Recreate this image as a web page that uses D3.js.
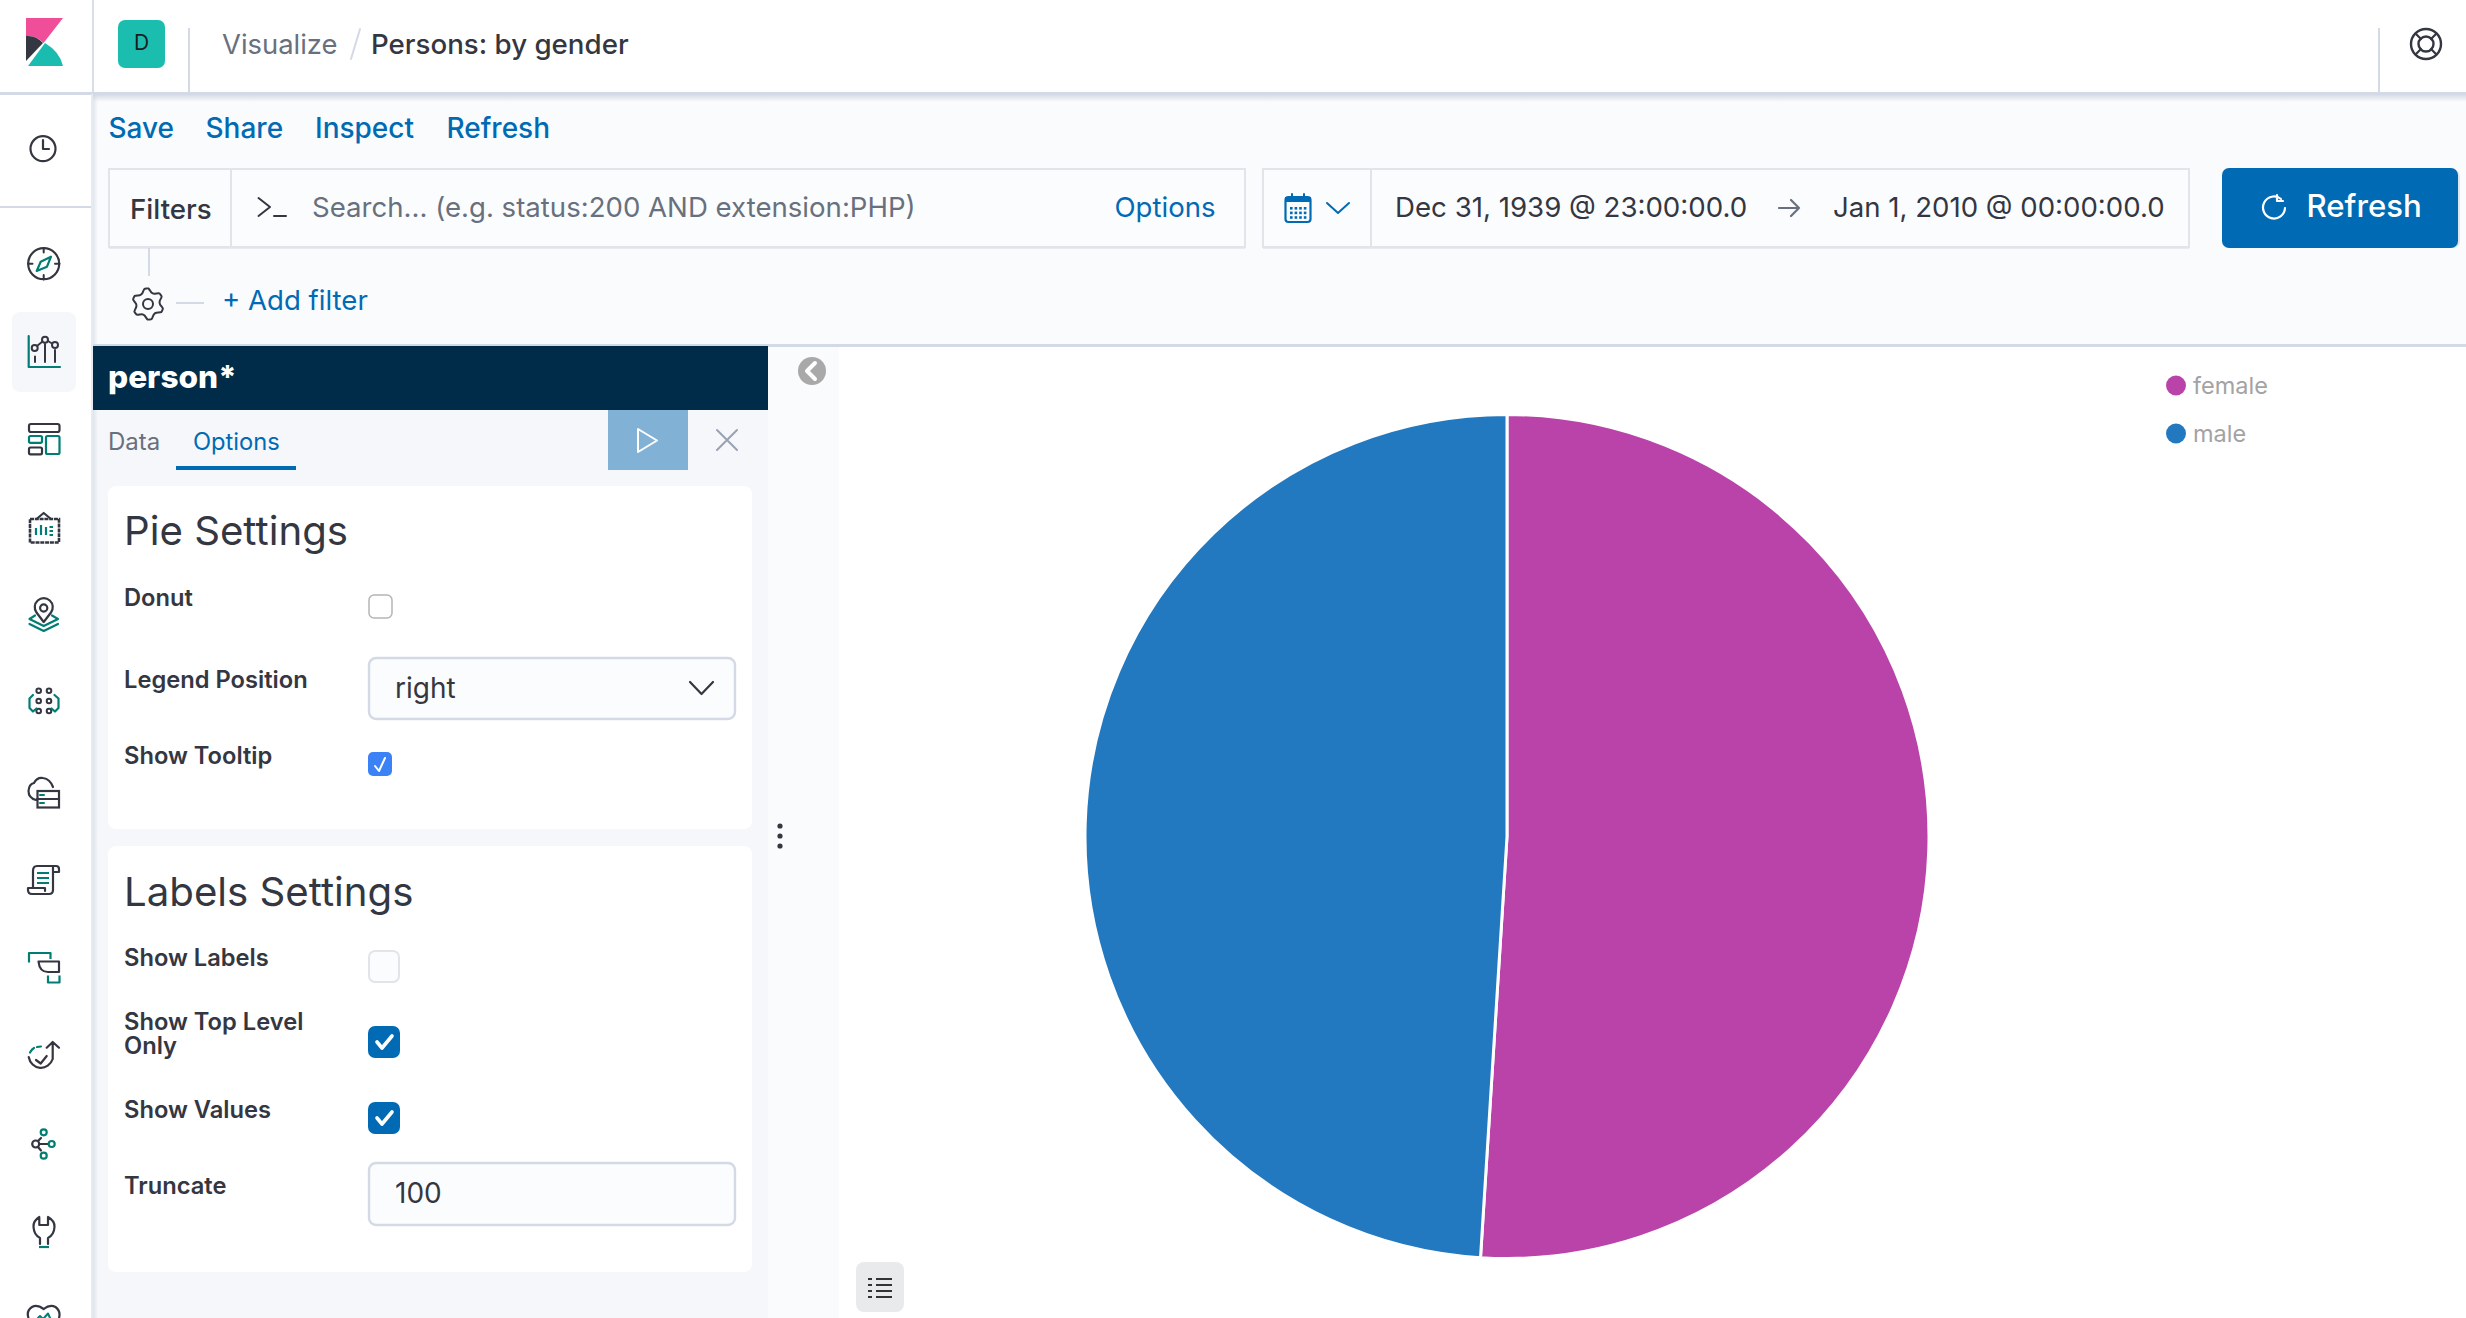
<!DOCTYPE html>
<html><head><meta charset="utf-8">
<script src="https://cdn.jsdelivr.net/npm/d3@7/dist/d3.min.js"></script>
<style>html,body{margin:0;padding:0;background:#fff;overflow:hidden}svg{display:block}text{font-family:Inter,"Noto Sans",sans-serif}</style>
</head><body><svg id="c" width="2466" height="1318" viewBox="0 0 2466 1318"></svg>
<script>
const categories = ["female", "male"];
const seriesValues = [51, 49];
const navLinks = ["Save", "Share", "Inspect", "Refresh"];

const INK="#343741", BLUE="#006BB4", GREY="#69707D", LINE="#D3DAE6", TEAL="#017D73";
const svg=d3.select("#c");
function rect(x,y,w,h,fill,o={}){const r=svg.append("rect").attr("x",x).attr("y",y).attr("width",w).attr("height",h).attr("fill",fill);
  if(o.r)r.attr("rx",o.r);if(o.s)r.attr("stroke",o.s).attr("stroke-width",o.sw||2);return r;}
function t(x,y,s,size,fill,w=400,anchor="start",par=svg){return par.append("text").attr("x",x).attr("y",y).attr("font-size",size).attr("font-weight",w).attr("fill",fill).attr("text-anchor",anchor).text(s);}
function p(d,o={}){return svg.append("path").attr("d",d).attr("fill",o.fill||"none").attr("stroke",o.s||(o.fill?"none":INK)).attr("stroke-width",o.sw||2.2).attr("stroke-linecap",o.cap||"round").attr("stroke-linejoin","round");}
function c(x,y,r,o={}){return svg.append("circle").attr("cx",x).attr("cy",y).attr("r",r).attr("fill",o.fill||"none").attr("stroke",o.s||(o.fill?"none":INK)).attr("stroke-width",o.sw||2.2);}

/* backgrounds */
rect(0,0,2466,1318,"#fff");
rect(93,94,2373,252,"#FAFBFD");
rect(93,346,746,972,"#FAFBFD");
rect(92,410,676,908,"#F5F7FA");
const defs=svg.append("defs");
const g1=defs.append("linearGradient").attr("id","sh").attr("x1",0).attr("x2",0).attr("y1",0).attr("y2",1);
g1.append("stop").attr("offset",0).attr("stop-color","#C9D0DE").attr("stop-opacity",.7);g1.append("stop").attr("offset",1).attr("stop-color","#C9D0DE").attr("stop-opacity",0);
const g2=defs.append("linearGradient").attr("id","sv");
g2.append("stop").attr("offset",0).attr("stop-color","#C9D0DE").attr("stop-opacity",.6);g2.append("stop").attr("offset",1).attr("stop-color","#C9D0DE").attr("stop-opacity",0);
rect(92,94,6,1224,"url(#sv)");
rect(0,92,2466,3,LINE);
rect(93,95,2373,7,"url(#sh)");
rect(0,206,92,2,LINE);
rect(92,0,2,92,LINE).attr("opacity",.9);
rect(188,28,2,64,LINE);
rect(91,94,2,1224,"#E6EAF1");
rect(2378,28,2,64,LINE);
rect(93,344,2373,3,LINE);
rect(93,346,675,64,"#002B49");

/* logo */
p("M26 18H63L43.5 43Q36 35 26 36Z",{fill:"#F04E98"});
p("M26 36Q36 35 43 43L26 61Z",{fill:"#343741"});
p("M28 66L45 43Q60 52 63 66Z",{fill:"#1BBCB0"});

/* top bar */
rect(118,20,47,48,"#1BBEAE",{r:7});
t(141.5,50,"D",21,"#1a1c21",400,"middle");
t(222,54,"Visualize",27.4,GREY);
p("M360 29L351 59",{s:LINE,sw:2});
t(371,54,"Persons: by gender",27.7,INK,500);
const ring=[2426,44];
c(ring[0],ring[1],15,{sw:2.4});c(ring[0],ring[1],7.5,{sw:2.4});
p(`M2416 34L2421 39M2436 34L2431 39M2416 54L2421 49M2436 54L2431 49`);

/* nav links */
const navX=[108.5,205.5,315,446.5];
svg.selectAll("text.nav").data(navLinks).join("text").attr("class","nav").attr("x",(d,i)=>navX[i]).attr("y",138).attr("font-size",28).attr("font-weight",500).attr("fill",BLUE).text(d=>d);

/* query bar */
function box(x,y,w,h){rect(x,y+2,w,h,"#D3DAE6").attr("opacity",.5);rect(x,y,w,h,"#FBFCFD",{s:"#E1E4E9",sw:2});}
box(109,169,1136,78);
rect(230,169,2,78,"#E1E4E9");
t(130,219,"Filters",27.7,INK,500);
p("M258.5 198L270 207L258.5 216M274 216H286",{sw:2});
t(312,217,"Search... (e.g. status:200 AND extension:PHP)",27.6,GREY);
t(1114.5,217,"Options",27.6,BLUE);
box(1263,169,926,78);
rect(1370,169,2,78,"#E1E4E9");
rect(1285.5,197,25,25,"none",{s:BLUE,sw:2.2,r:3});
rect(1285,197,26,5,BLUE);
p("M1292 194V199M1304 194V199",{s:BLUE,sw:2});
svg.selectAll("rect.cal").data(d3.range(12)).join("rect").attr("class","cal").attr("x",d=>1290+(d%4)*4.6).attr("y",d=>207+Math.floor(d/4)*4.6).attr("width",2.6).attr("height",2.6).attr("fill",BLUE);
p("M1327 203L1338 213L1349 203",{s:BLUE,sw:2});
t(1395,217,"Dec 31, 1939 @ 23:00:00.0",27.65,INK);
p("M1779 208H1799M1791 200L1799 208L1791 216",{s:GREY});
t(1833,217,"Jan 1, 2010 @ 00:00:00.0",27.6,INK);
rect(2224,170,236,78,"#C9D0DE",{r:7}).attr("opacity",.5);
rect(2222,168,236,80,BLUE,{r:7});
p("M2281 199A11 11 0 1 0 2285 208M2277 195V201H2283",{s:"#fff",sw:2.2});
t(2306.5,217,"Refresh",31.2,"#fff",500);

/* add filter row */
rect(148,248,2,28,LINE);
const gx=148,gy=304;
const gear=d3.range(24).map(i=>{const a=(i-0.9)/24*2*Math.PI;const r=[15.5,15.5,12,12][i%4];return [r,a];});
p(d3.lineRadial().curve(d3.curveCardinalClosed.tension(.5))(gear.map(([r,a])=>[a,r])),{sw:2}).attr("transform",`translate(${gx},${gy})`);
c(gx,gy,5,{sw:2});
rect(176,302,28,2,LINE);
t(222,310,"+ Add filter",27.6,BLUE);

/* editor header */
t(108,388,"person*",31.6,"#fff",800);
t(108,450,"Data",24,GREY);
t(193,450,"Options",23.7,BLUE);
rect(176,466,120,4,BLUE);
rect(608,410,80,60,"#82B1D6");
p("M638 429V452L657 440.5Z",{s:"#fff",sw:2});
p("M717 430L737 450M737 430L717 450",{s:"#98A2B3",sw:2});

/* cards */
rect(108,486,644,343,"#fff",{r:8});
rect(108,846,644,426,"#fff",{r:8});
t(124,545,"Pie Settings",40.2,INK,400);
t(124,606,"Donut",23.7,INK,600);
rect(369,595,23,23,"#fff",{s:"#B5B5B5",sw:1.5,r:5});
t(124,688,"Legend Position",23.7,INK,600);
rect(369,658,366,61,"#FBFCFD",{s:"#D3DAE6",sw:2.4,r:7});
t(395,698,"right",28,INK);
p("M690 682L701.5 694L713 682",{sw:2.2});
t(124,764,"Show Tooltip",23.7,INK,600);
rect(368,752,24,24,"#3B82F6",{r:5});
p("M375 766L379 771L385 758",{s:"#fff",sw:2});
t(124,906,"Labels Settings",40.2,INK,400);
t(124,966,"Show Labels",23.7,INK,600);
rect(369,951,30,31,"#FBFCFD",{s:"#E1E4E9",sw:2,r:6});
t(124,1030,"Show Top Level",23.7,INK,600);
t(124,1054,"Only",23.7,INK,600);
rect(368,1026,32,32,BLUE,{r:7});
p("M377 1042L382 1048L392 1036",{s:"#fff",sw:3.6});
t(124,1118,"Show Values",23.7,INK,600);
rect(368,1102,32,32,BLUE,{r:7});
p("M377 1118L382 1124L392 1112",{s:"#fff",sw:3.6});
t(124,1194,"Truncate",23.7,INK,600);
rect(369,1163,366,62,"#FBFCFD",{s:"#D3DAE6",sw:2.4,r:7});
t(395,1203,"100",28,INK);

/* resize handle + collapse */
[826,836,846].forEach(y=>c(780,y,2.6,{fill:INK}));
c(812,371,14,{fill:"#A9A9A9"});
p("M815 363L807 371L815 379",{s:"#fff",sw:4});

/* sidebar icons */
rect(12,312,64,80,"#F5F7FA",{r:8});
// clock
c(43,148.7,12.5);p("M43 140V149H49");
// discover
c(43.7,263.7,15.5);p("M43.7 248V252.5M43.7 275V279.5M28 263.7H32.5M55 263.7H59.5",{sw:2});
p("M51 256.7L40.7 261.7L36.7 271L47 266.7Z",{s:TEAL,sw:2.2});
// visualize
p("M28.7 336V367H60",{s:TEAL});
c(34.7,348,3,{sw:2});c(45,339.7,3,{sw:2});c(55,345,3,{sw:2});
p("M37 346L42.5 341.5M48 341L52 343.5",{sw:1.8});
p("M35 356.5V362M45 344V362M55 350V362",{sw:2});
// dashboard
rect(29,424,30.5,8,"none",{s:INK,sw:2.2,r:2});
rect(29,436,13,6.8,"none",{s:TEAL,sw:2.2,r:1.5});
rect(46,436,13.5,18,"none",{s:TEAL,sw:2.2,r:1.5});
rect(29,447.5,13,6.8,"none",{s:INK,sw:2.2,r:1.5});
// canvas
rect(30,519,29,23.5,"none",{s:INK,sw:2.6}).attr("stroke-dasharray","4 .8");
p("M36.5 519L43.7 513L51 519");
p("M36 535V528M41 535V525M46 535V527",{s:TEAL,sw:2.2,cap:"butt"});
p("M49.5 527H53M49.5 531H53M49.5 535H53",{s:TEAL,sw:2,cap:"butt"});
// maps
c(43.7,608,3.6);p("M43.7 622L36.5 612.5A9 9 0 1 1 51 612.5Z");
p("M35 615.5L29.5 619L43.7 626L58 619L52 615.5M29.5 624L43.7 631L58 624",{s:TEAL});
// ml
[[38.7,690.7],[49,690.7],[38.7,701],[49,701],[38.7,711],[49,711]].forEach(a=>c(a[0],a[1],2.3,{sw:2}));
p("M33 695L29.5 698.5V708L33 711.5L36.5 708.5M54.5 695L58.5 698.5V708L55 711.5L51.5 708.5",{s:TEAL});
// infra
p("M36 800Q28.5 798 28.5 791Q29 784 34 783Q37 777 43 778Q50 779 53 787");
rect(37.5,791,21.5,16.5,"#fff",{s:INK,sw:2.2});p("M37 799H59");p("M40 795H44M40 803H44",{s:TEAL,sw:2});
// logs
p("M33 888V871Q33 866 37 866H56Q59 866 59 869V872H53M53 867V890Q53 894 49 894H32Q28 894 28 890V888H45V891");
p("M37 873H49M37 878H49M37 883H49",{s:TEAL,cap:"butt"});
// apm
p("M38.5 961.5H59V972H48Q39.5 972 38.5 961.5Z");
p("M29 962.5V953H50.5V959M48 975.5V982.5H59.5V975.5",{s:TEAL,cap:"butt"});
// uptime
p("M28.7 1057A12.5 13.5 0 0 0 52.7 1059V1042M46.7 1047.7L52.7 1042L59 1047.7M36 1060L40.7 1063.5L46.7 1056");
p("M30 1052.5Q32 1049 34 1048M37 1047L41 1046.5",{s:TEAL});
// graph
c(35.7,1144,3.5);p("M39.5 1144H48M38 1141L41 1138M38 1147L41 1150.5");
c(43.7,1132.3,3,{s:TEAL});c(51.7,1144,3,{s:TEAL});c(43.7,1155.7,3,{s:TEAL});
// dev tools
p("M39.3 1217Q33 1221 33.5 1227Q34 1235 40 1238V1244M48 1244V1238Q54 1235 54.5 1227Q55 1221 48 1217V1225H39.3V1217");
p("M39 1247H49",{s:TEAL,cap:"butt"});
// monitoring
p("M43.7 1309Q37 1304 32 1307Q26 1311 28.5 1318M43.7 1309Q50 1304 55.5 1307Q61 1311 59 1318");
p("M38 1318L40 1316L42 1318M44 1318L48 1313.5L50 1318",{s:TEAL,sw:2});

/* pie chart */
const pieCenter=[1507,836.5], pieRadius=422;
const colour=d3.scaleOrdinal().domain(categories).range(["#BA43A9","#2379BF"]);
const arcs=d3.pie().sort(null).value(d=>d.v)(categories.map((k,i)=>({k,v:seriesValues[i]})));
const arc=d3.arc().innerRadius(0).outerRadius(pieRadius);
svg.append("g").attr("transform",`translate(${pieCenter})`).selectAll("path").data(arcs).join("path")
  .attr("d",arc).attr("fill",d=>colour(d.data.k)).attr("stroke","#fff").attr("stroke-width",3);

/* legend */
const legendY=d3.scalePoint().domain(categories).range([385.5,433.5]);
const lg=svg.append("g").selectAll("g").data(categories).join("g");
lg.append("circle").attr("cx",2176).attr("cy",d=>legendY(d)).attr("r",10).attr("fill",d=>colour(d));
lg.append("text").attr("x",2193).attr("y",d=>legendY(d)+8).attr("font-size",23.5).attr("fill","#A3A3A3").text(d=>d);

/* legend toggle */
rect(856,1262,48,50,"#E9EAEC",{r:8});
[1279,1285,1291,1297].forEach(y=>{rect(868,y-1,4,2,"#333");rect(876,y-1,16,2,"#333");});
</script></body></html>
